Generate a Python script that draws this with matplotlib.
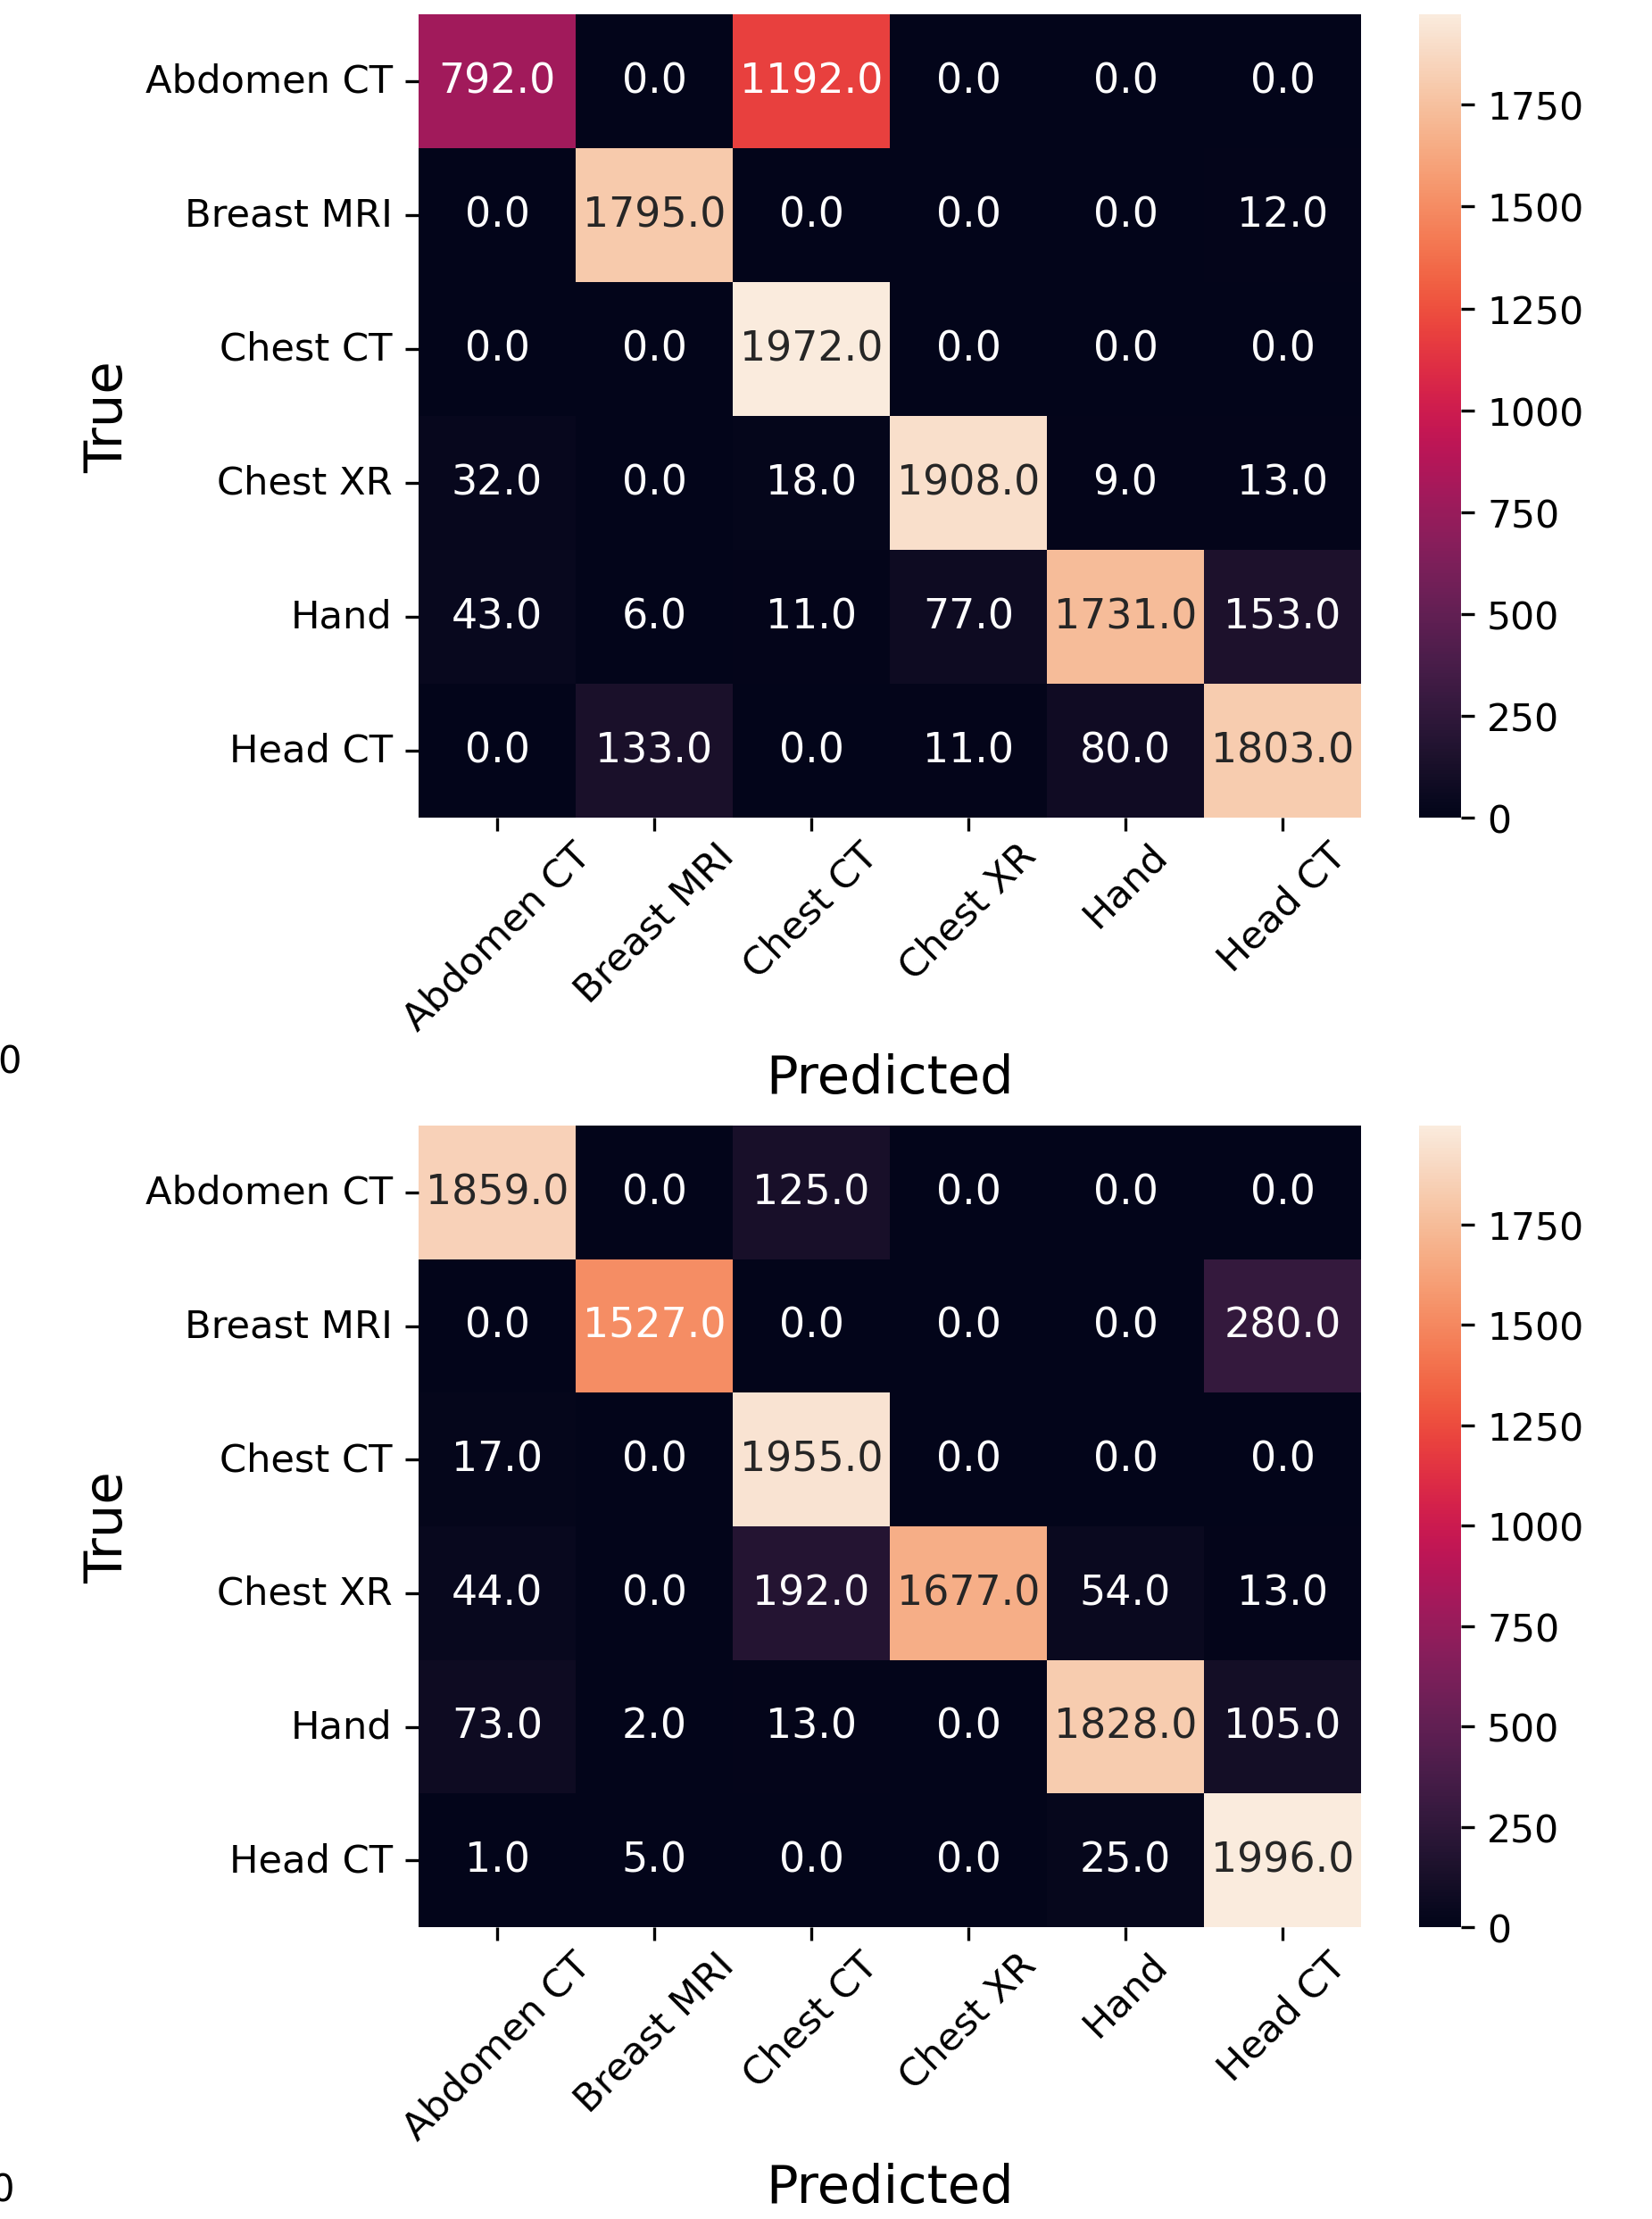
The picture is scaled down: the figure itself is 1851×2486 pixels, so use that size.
import numpy as np
import matplotlib
matplotlib.use("Agg")
import matplotlib.pyplot as plt
import seaborn as sns

classes = ["Abdomen CT", "Breast MRI", "Chest CT", "Chest XR", "Hand", "Head CT"]

cm_first = np.array([
    [792, 0, 1192, 0, 0, 0],
    [0, 1795, 0, 0, 0, 12],
    [0, 0, 1972, 0, 0, 0],
    [32, 0, 18, 1908, 9, 13],
    [43, 6, 11, 77, 1731, 153],
    [0, 133, 0, 11, 80, 1803],
], dtype=float)

cm_second = np.array([
    [1859, 0, 125, 0, 0, 0],
    [0, 1527, 0, 0, 0, 280],
    [17, 0, 1955, 0, 0, 0],
    [44, 0, 192, 1677, 54, 13],
    [73, 2, 13, 0, 1828, 105],
    [1, 5, 0, 0, 25, 1996],
], dtype=float)

W, H = 1851, 2487
DPI = 300
fig = plt.figure(figsize=(W / DPI, H / DPI), dpi=DPI)


def px_rect(x0, y0, x1, y1):
    return [x0 / W, 1 - y1 / H, (x1 - x0) / W, (y1 - y0) / H]


panels = [
    (cm_first, (17, 917)),
    (cm_second, (1262, 2160)),
]

for cm, (ytop, ybot) in panels:
    ax = fig.add_axes(px_rect(469, ytop, 1525, ybot))
    cax = fig.add_axes(px_rect(1590, ytop, 1637, ybot))
    sns.heatmap(cm, annot=True, fmt=".1f", ax=ax, cbar_ax=cax,
                xticklabels=classes, yticklabels=classes,
                annot_kws={"size": 11})
    ax.set_xlabel("Predicted", fontsize=14.2, labelpad=4)
    ax.set_ylabel("True", fontsize=14.2, labelpad=3.3)
    ax.tick_params(axis="both", labelsize=10.4)
    ax.tick_params(axis="x", pad=1.4)
    plt.setp(ax.get_xticklabels(), rotation=45, ha="center")
    plt.setp(ax.get_yticklabels(), rotation=0)
    cax.tick_params(labelsize=10.2)

# partially visible tick labels at the left edge
fig.text(-3 / W, 1 - 1203 / H, "0", fontsize=10, ha="left", va="baseline")
fig.text(-11 / W, 1 - 2467 / H, "0", fontsize=10, ha="left", va="baseline")

fig.savefig("out.png", dpi=DPI)
